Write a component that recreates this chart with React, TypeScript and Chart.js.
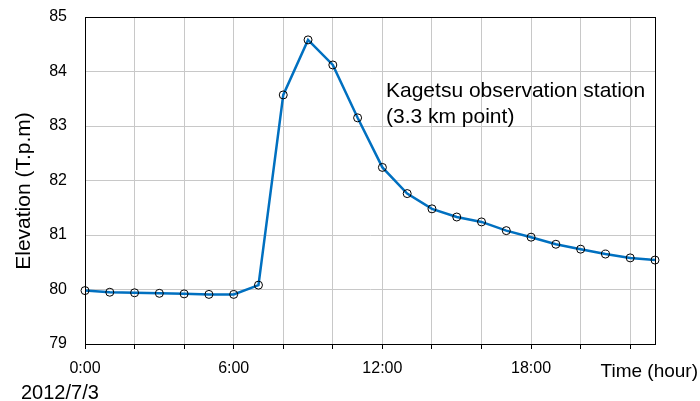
import React, { useEffect, useRef } from "react";
import { Chart, registerables } from "chart.js";

Chart.register(...registerables);

// Hourly water level, 2012/7/3 (hour 0 .. 23)
const hours = [0, 1, 2, 3, 4, 5, 6, 7, 8, 9, 10, 11, 12, 13, 14, 15, 16, 17, 18, 19, 20, 21, 22, 23];
const elevation = [
  79.98, 79.95, 79.94, 79.93, 79.92, 79.91, 79.91, 80.08, 83.57, 84.58, 84.12, 83.15,
  82.24, 81.76, 81.48, 81.33, 81.24, 81.08, 80.96, 80.83, 80.74, 80.65, 80.58, 80.54,
];
const xGridTicks = [0, 2, 4, 6, 8, 10, 12, 14, 16, 18, 20, 22];
const xLabelTicks: Record<number, string> = { 0: "0:00", 6: "6:00", 12: "12:00", 18: "18:00" };
const yTicks = [79, 80, 81, 82, 83, 84, 85];

const FONT = "'Liberation Sans', Arial, sans-serif";

const decorations = {
  id: "decorations",
  afterDatasetsDraw(chart: any) {
    const { ctx, chartArea } = chart;
    ctx.save();
    // plot frame
    ctx.strokeStyle = "#000";
    ctx.lineWidth = 1;
    ctx.strokeRect(
      Math.round(chartArea.left) + 0.5,
      Math.round(chartArea.top) + 0.5,
      Math.round(chartArea.right - chartArea.left),
      Math.round(chartArea.bottom - chartArea.top)
    );
    ctx.fillStyle = "#000";
    ctx.textBaseline = "alphabetic";
    // station annotation
    ctx.font = `21px ${FONT}`;
    ctx.textAlign = "left";
    ctx.fillText("Kagetsu observation station", 386, 97);
    ctx.fillText("(3.3 km point)", 386, 123);
    // axis titles
    ctx.font = `19px ${FONT}`;
    ctx.textAlign = "right";
    ctx.fillText("Time (hour)", 698, 377);
    ctx.font = `20px ${FONT}`;
    ctx.textAlign = "left";
    ctx.fillText("2012/7/3", 21, 399);
    ctx.translate(30, 191);
    ctx.rotate(-Math.PI / 2);
    ctx.font = `21px ${FONT}`;
    ctx.textAlign = "center";
    ctx.fillText("Elevation (T.p.m)", 0, 0);
    ctx.restore();
  },
};

export default function App() {
  const ref = useRef<HTMLCanvasElement>(null);

  useEffect(() => {
    if (!ref.current) return;
    const chart = new Chart(ref.current, {
      type: "line",
      data: {
        datasets: [
          {
            data: hours.map((h, i) => ({ x: h, y: elevation[i] })),
            borderColor: "#0070C0",
            borderWidth: 2.5,
            pointRadius: 4,
            pointBorderColor: "#000",
            pointBorderWidth: 1,
            pointBackgroundColor: "rgba(0,0,0,0)",
            tension: 0,
            clip: false,
          },
        ],
      },
      options: {
        responsive: false,
        animation: false,
        layout: { padding: { top: 17, right: 45, left: 0, bottom: 0 } },
        plugins: { legend: { display: false }, tooltip: { enabled: false } },
        scales: {
          x: {
            type: "linear",
            min: 0,
            max: 23,
            afterBuildTicks: (axis: any) => {
              axis.ticks = xGridTicks.map((v) => ({ value: v }));
            },
            afterFit: (axis: any) => {
              axis.height = 57;
              axis.paddingLeft = 0;
              axis.paddingRight = 0;
            },
            grid: {
              color: "#c8c8c8",
              lineWidth: 1,
              drawTicks: true,
              tickLength: 5,
              tickColor: "#000",
            },
            border: { color: "#000" },
            ticks: {
              autoSkip: false,
              maxRotation: 0,
              padding: 10,
              color: "#000",
              font: { family: FONT, size: 16 },
              callback: (v: any) => xLabelTicks[Number(v)] ?? "",
            },
          },
          y: {
            min: 79,
            max: 85,
            afterBuildTicks: (axis: any) => {
              axis.ticks = yTicks.map((v) => ({ value: v }));
            },
            afterFit: (axis: any) => {
              axis.width = 85;
              axis.paddingTop = 0;
              axis.paddingBottom = 0;
            },
            grid: { color: "#c8c8c8", lineWidth: 1, drawTicks: false },
            border: { color: "#000" },
            ticks: {
              padding: 18,
              color: "#000",
              font: { family: FONT, size: 16 },
              callback: (v: any) => String(v),
            },
          },
        },
      },
      plugins: [decorations],
    });
    return () => chart.destroy();
  }, []);

  return (
    <div style={{ position: "fixed", left: 0, top: 0, width: 700, height: 401, background: "#fff" }}>
      <canvas ref={ref} width={700} height={401} style={{ display: "block" }} />
    </div>
  );
}
